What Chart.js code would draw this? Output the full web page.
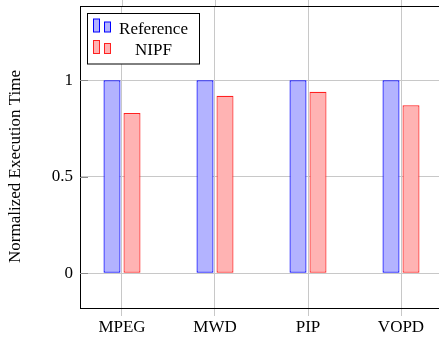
<!DOCTYPE html>
<html>
<head>
<meta charset="utf-8">
<script src="https://cdn.jsdelivr.net/npm/chart.js@4.4.0/dist/chart.umd.min.js"></script>
<style>
  body { margin: 0; background: #fff; }
  #wrap { width: 439px; height: 341px; overflow: hidden; }
  #myChart { display: block; }
</style>
</head>
<body>
<div id="wrap"><canvas id="myChart" width="460" height="341"></canvas></div>
<script>
var benchmarks = ['MPEG', 'MWD', 'PIP', 'VOPD'];
var referenceTime = [1, 1, 1, 1];
var nipfTime = [0.83, 0.92, 0.94, 0.87];
var yTicks = [0, 0.5, 1];
var yTickLabels = ['0', '0.5', '1'];

var serif = "'Liberation Serif', 'Times New Roman', serif";
var gridColor = '#c8c8c8';

function points(values) {
    return values.map(function(v, i) { return {x: i, y: v}; });
}

// pgfplots-like legend box, frame on top and the little outside tick marks
var decorations = {
    id: 'decorations',
    afterDraw: function(chart) {
        var ctx = chart.ctx;
        var area = chart.chartArea;
        var xs = chart.scales.x;
        var ys = chart.scales.y;
        ctx.save();

        // top axis line
        ctx.strokeStyle = '#000';
        ctx.lineWidth = 1;
        ctx.beginPath();
        ctx.moveTo(area.left, 6.5);
        ctx.lineTo(chart.width, 6.5);
        ctx.stroke();

        // x ticks sticking out above the top axis
        ctx.strokeStyle = gridColor;
        benchmarks.forEach(function(b, i) {
            var px = Math.round(xs.getPixelForValue(i)) + 0.5;
            ctx.beginPath();
            ctx.moveTo(px, 0);
            ctx.lineTo(px, 6);
            ctx.stroke();
        });

        // inner y ticks
        ctx.strokeStyle = '#8c8c8c';
        yTicks.forEach(function(v) {
            var py = Math.round(ys.getPixelForValue(v)) + 0.5;
            ctx.beginPath();
            ctx.moveTo(area.left, py);
            ctx.lineTo(area.left + 8, py);
            ctx.stroke();
        });

        // y axis title
        ctx.fillStyle = '#000';
        ctx.font = '17px ' + serif;
        ctx.textAlign = 'center';
        ctx.textBaseline = 'middle';
        ctx.translate(16, 166.5);
        ctx.rotate(-Math.PI / 2);
        ctx.fillText('Normalized Execution Time', 0, 0);
        ctx.setTransform(1, 0, 0, 1, 0, 0);

        // legend
        ctx.fillStyle = '#fff';
        ctx.fillRect(87.5, 13.5, 112, 50.5);
        ctx.strokeStyle = '#000';
        ctx.strokeRect(87.5, 13.5, 112, 50.5);
        ctx.textBaseline = 'alphabetic';
        chart.data.datasets.forEach(function(ds, i) {
            var bottom = 32 + i * 21.5;
            ctx.fillStyle = ds.backgroundColor;
            ctx.strokeStyle = ds.borderColor;
            ctx.fillRect(93.5, bottom - 13, 6, 13);
            ctx.strokeRect(93.5, bottom - 13, 6, 13);
            ctx.fillRect(104.5, bottom - 10, 6, 10);
            ctx.strokeRect(104.5, bottom - 10, 6, 10);
            ctx.fillStyle = '#000';
            ctx.fillText(ds.label, 153.5, bottom + 1.5);
        });
        ctx.restore();
    }
};

var ctx = document.getElementById('myChart').getContext('2d');

var myChart = new Chart(ctx, {
    type: 'bar',
    data: {
        datasets: [{
            label: 'Reference',
            data: points(referenceTime),
            backgroundColor: '#b3b3ff',
            borderColor: '#0000ff',
            borderWidth: 1.2,
            borderSkipped: false
        }, {
            label: 'NIPF',
            data: points(nipfTime),
            backgroundColor: '#ffb3b3',
            borderColor: '#ff2020',
            borderWidth: 1.2,
            borderSkipped: false
        }]
    },
    options: {
        responsive: false,
        animation: false,
        categoryPercentage: 0.43,
        barPercentage: 0.85,
        layout: { padding: { top: 6.5, left: 0, right: 17, bottom: 0 } },
        plugins: {
            legend: { display: false },
            tooltip: { enabled: false }
        },
        scales: {
            x: {
                type: 'linear',
                offset: false,
                min: -0.4516,
                max: 3.4516,
                afterBuildTicks: function(scale) {
                    scale.ticks = benchmarks.map(function(b, i) { return {value: i}; });
                },
                afterFit: function(scale) {
                    scale.height = 33;
                    scale.paddingLeft = 0;
                    scale.paddingRight = 0;
                },
                ticks: {
                    callback: function(v) { return benchmarks[v]; },
                    color: '#000',
                    padding: 1,
                    maxRotation: 0,
                    font: { family: serif, size: 17 }
                },
                grid: { color: gridColor, tickLength: 8, offset: false },
                border: { color: '#000', width: 1 }
            },
            y: {
                min: -0.18,
                max: 1.382,
                afterBuildTicks: function(scale) {
                    scale.ticks = yTicks.map(function(v) { return {value: v}; });
                },
                afterFit: function(scale) {
                    scale.width = 80;
                    scale.paddingTop = 0;
                    scale.paddingBottom = 0;
                },
                ticks: {
                    callback: function(v) { return yTickLabels[yTicks.indexOf(v)]; },
                    color: '#000',
                    padding: 7,
                    font: { family: serif, size: 17 }
                },
                grid: { color: gridColor, drawTicks: false },
                border: { color: '#000', width: 1 }
            }
        }
    },
    plugins: [decorations]
});
</script>
</body>
</html>
